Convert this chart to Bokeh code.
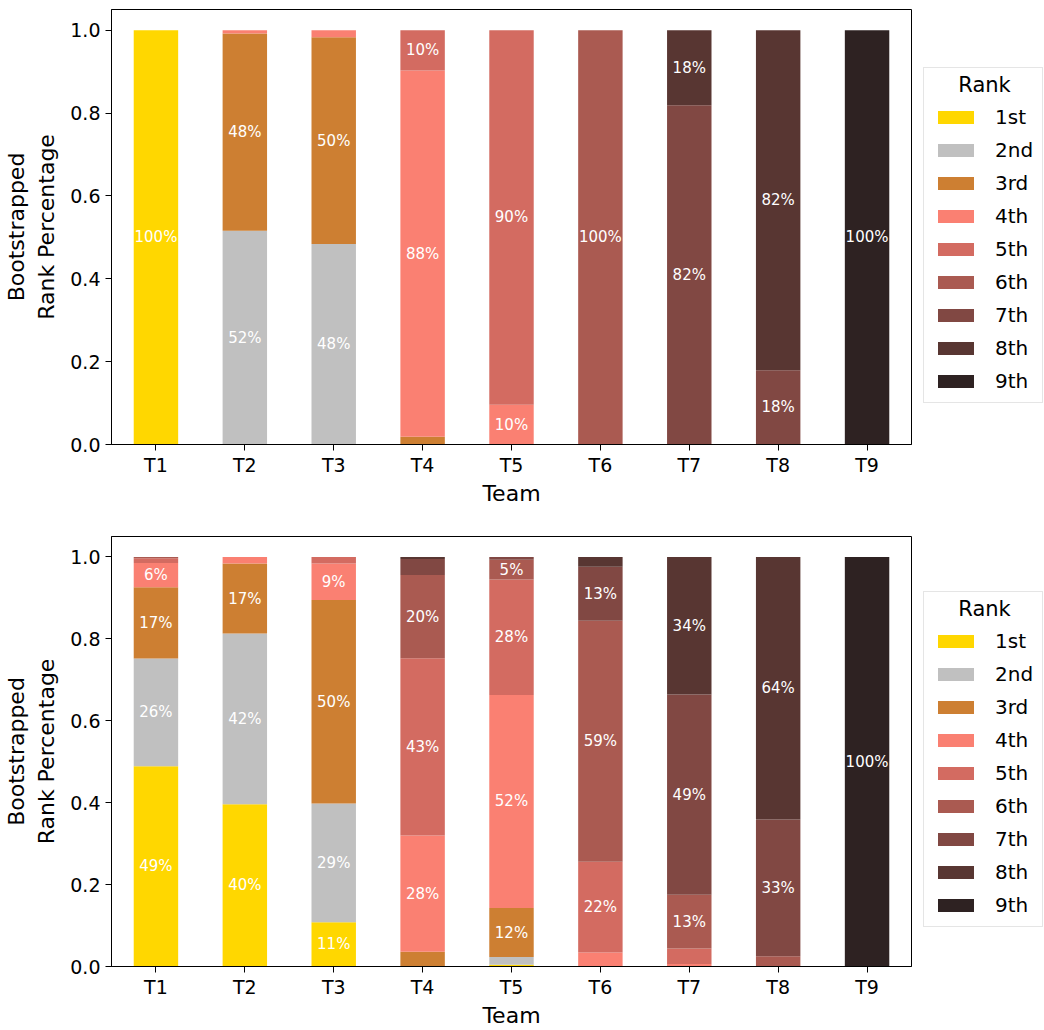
import numpy as np
from bokeh.plotting import figure
from bokeh.models import (ColumnDataSource, FactorRange, Range1d, Legend, LegendItem,
                          FixedTicker, PrintfTickFormatter, Label, Spacer)
from bokeh.layouts import column, row
from bokeh.core.properties import value
from bokeh.embed import file_html
from bokeh.resources import INLINE

# ---------------- data ----------------
teams = ["T1", "T2", "T3", "T4", "T5", "T6", "T7", "T8", "T9"]
ranks = ["1st", "2nd", "3rd", "4th", "5th", "6th", "7th", "8th", "9th"]
rank_colors = ["#FFD700", "#C0C0C0", "#CD7F32", "#FA8072", "#D36B61",
               "#AA5A51", "#814843", "#583632", "#2E2222"]

# top panel: share of bootstrap samples with each rank, per team (T1..T9)
top_1st = [1.000, 0.000, 0.000, 0.000, 0.000, 0.000, 0.000, 0.000, 0.000]
top_2nd = [0.000, 0.516, 0.484, 0.000, 0.000, 0.000, 0.000, 0.000, 0.000]
top_3rd = [0.000, 0.476, 0.499, 0.019, 0.000, 0.000, 0.000, 0.000, 0.000]
top_4th = [0.000, 0.008, 0.017, 0.884, 0.096, 0.000, 0.000, 0.000, 0.000]
top_5th = [0.000, 0.000, 0.000, 0.097, 0.904, 0.000, 0.000, 0.000, 0.000]
top_6th = [0.000, 0.000, 0.000, 0.000, 0.000, 1.000, 0.000, 0.000, 0.000]
top_7th = [0.000, 0.000, 0.000, 0.000, 0.000, 0.000, 0.819, 0.179, 0.000]
top_8th = [0.000, 0.000, 0.000, 0.000, 0.000, 0.000, 0.181, 0.821, 0.000]
top_9th = [0.000, 0.000, 0.000, 0.000, 0.000, 0.000, 0.000, 0.000, 1.000]

# bottom panel
bot_1st = [0.489, 0.396, 0.108, 0.000, 0.004, 0.000, 0.000, 0.000, 0.000]
bot_2nd = [0.263, 0.417, 0.290, 0.000, 0.019, 0.000, 0.000, 0.000, 0.000]
bot_3rd = [0.174, 0.171, 0.497, 0.036, 0.120, 0.000, 0.000, 0.000, 0.000]
bot_4th = [0.059, 0.016, 0.089, 0.284, 0.520, 0.034, 0.006, 0.000, 0.000]
bot_5th = [0.012, 0.000, 0.016, 0.433, 0.282, 0.222, 0.038, 0.000, 0.000]
bot_6th = [0.003, 0.000, 0.000, 0.203, 0.048, 0.588, 0.131, 0.025, 0.000]
bot_7th = [0.000, 0.000, 0.000, 0.039, 0.007, 0.132, 0.489, 0.334, 0.000]
bot_8th = [0.000, 0.000, 0.000, 0.005, 0.000, 0.024, 0.336, 0.641, 0.000]
bot_9th = [0.000, 0.000, 0.000, 0.000, 0.000, 0.000, 0.000, 0.000, 1.000]

y_ticks = [0.0, 0.2, 0.4, 0.6, 0.8, 1.0]

top_shares = [top_1st, top_2nd, top_3rd, top_4th, top_5th, top_6th, top_7th, top_8th, top_9th]
bot_shares = [bot_1st, bot_2nd, bot_3rd, bot_4th, bot_5th, bot_6th, bot_7th, bot_8th, bot_9th]

FONT = "DejaVu Sans"
LABEL_MIN = 0.045
LEG_W, LEG_H = 121, 338


def make_source(shares):
    data = {"team": teams}
    for r, s in zip(ranks, shares):
        data[r] = s
    return ColumnDataSource(data)


def make_panel(shares, src, height, border_top, border_bottom):
    p = figure(width=912, height=height, x_range=FactorRange(*teams),
               y_range=Range1d(0, 1.05), output_backend="svg", toolbar_location=None,
               min_border_left=111, min_border_right=1,
               min_border_top=border_top, min_border_bottom=border_bottom)
    p.background_fill_color = "white"
    p.border_fill_color = "white"
    p.outline_line_color = "black"
    p.outline_line_alpha = 1.0
    p.outline_line_width = 1
    p.grid.visible = False

    p.vbar_stack(ranks, x="team", width=0.5, fill_color=rank_colors,
                 line_color=None, source=src)

    arr = np.array(shares, dtype=float)
    cum = np.cumsum(arr, axis=0)
    mids = cum - arr / 2.0
    xs, ys, txt = [], [], []
    for i in range(len(ranks)):
        for j in range(len(teams)):
            if arr[i, j] >= LABEL_MIN:
                xs.append(teams[j])
                ys.append(float(mids[i, j]))
                txt.append(f"{round(arr[i, j] * 100)}%")
    p.text(x=xs, y=ys, text=txt, text_align="center", text_baseline="middle",
           text_color="white", text_font_size="15px", text_font=value(FONT))

    for ax in (p.xaxis[0], p.yaxis[0]):
        ax.major_tick_out = 6
        ax.major_tick_in = 0
        ax.minor_tick_out = 0
        ax.minor_tick_in = 0
        ax.major_tick_line_color = "black"
        ax.axis_line_color = "black"
        ax.major_label_text_font = FONT
        ax.major_label_text_font_size = "19px"
        ax.major_label_text_color = "black"
        ax.axis_label_text_font = FONT
        ax.axis_label_text_font_style = "normal"
        ax.axis_label_text_color = "black"

    p.yaxis.ticker = FixedTicker(ticks=y_ticks)
    p.yaxis.formatter = PrintfTickFormatter(format="%.1f")
    p.yaxis.axis_label = "Bootstrapped\nRank Percentage"
    p.yaxis.axis_label_text_font_size = "22px"
    p.yaxis.major_label_standoff = 5
    p.yaxis.axis_label_standoff = 8

    p.xaxis.axis_label = "Team"
    p.xaxis.axis_label_text_font_size = "22px"
    p.xaxis.major_label_standoff = 3
    p.xaxis.axis_label_standoff = 2
    return p


def make_legend_fig(src):
    lf = figure(width=LEG_W, height=LEG_H, x_range=Range1d(0, LEG_W), y_range=Range1d(0, LEG_H),
                output_backend="svg", toolbar_location=None, min_border=0,
                x_axis_type=None, y_axis_type=None)
    lf.outline_line_color = None
    lf.background_fill_color = "white"
    lf.border_fill_color = "white"
    # hidden proxies of the stacked bars, used only for the legend swatches
    rends = [lf.vbar(x="team", top=r, width=0.5, source=src, fill_color=c,
                     line_color=None, visible=False)
             for r, c in zip(ranks, rank_colors)]
    legend = Legend(items=[LegendItem(label=r, renderers=[rd]) for r, rd in zip(ranks, rends)],
                    title=" ", location="top_left", margin=0, padding=9, spacing=9,
                    glyph_width=45, glyph_height=16, label_height=24, label_standoff=17,
                    title_standoff=4)
    legend.label_text_font = FONT
    legend.label_text_font_size = "20px"
    legend.label_text_color = "black"
    legend.title_text_font = FONT
    legend.title_text_font_size = "21px"
    legend.title_text_font_style = "normal"
    legend.border_line_color = "#cccccc"
    legend.border_line_width = 1
    legend.background_fill_alpha = 0.0
    legend.inactive_fill_alpha = 0.0
    lf.add_layout(legend, "center")
    title = Label(x=61, y=LEG_H - 17, text="Rank", text_align="center",
                  text_baseline="middle", text_font=FONT, text_font_size="21px",
                  text_color="black", level="overlay")
    lf.add_layout(title)
    return lf


src1 = make_source(top_shares)
src2 = make_source(bot_shares)
p1 = make_panel(top_shares, src1, 516, 9, 72)
p2 = make_panel(bot_shares, src2, 514, 20, 62)
l1 = make_legend_fig(src1)
l2 = make_legend_fig(src2)

layout = column(
    row(p1, Spacer(width=11, height=10), column(Spacer(width=LEG_W, height=67), l1)),
    row(p2, Spacer(width=11, height=10), column(Spacer(width=LEG_W, height=75), l2)),
)

open("out.html", "w").write(file_html(layout, INLINE))
